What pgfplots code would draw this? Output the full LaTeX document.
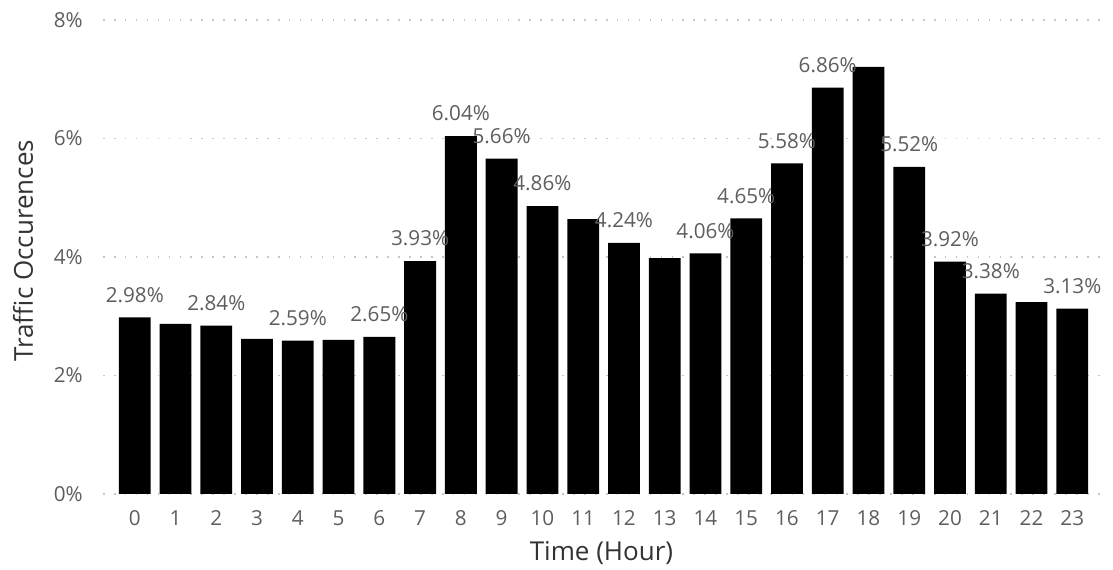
\documentclass[border=0pt]{standalone}
\usepackage{fontspec}
\setmainfont{Open Sans}
\usepackage{pgfplots}
\pgfplotsset{compat=1.18}

\definecolor{ticktext}{HTML}{605E5C}
\definecolor{titletext}{HTML}{333333}
\definecolor{gridc}{HTML}{C8C6C4}

% share of traffic occurrences per hour of the day (percent)
\pgfplotstableread{
hour share
0  2.98
1  2.87
2  2.84
3  2.62
4  2.59
5  2.60
6  2.65
7  3.93
8  6.04
9  5.66
10 4.86
11 4.64
12 4.24
13 3.98
14 4.06
15 4.65
16 5.58
17 6.86
18 7.21
19 5.52
20 3.92
21 3.38
22 3.24
23 3.13
}\hourly

% hours that carry a value label
\pgfplotstableread{
hour share
0  2.98
2  2.84
4  2.59
6  2.65
7  3.93
8  6.04
9  5.66
10 4.86
12 4.24
14 4.06
15 4.65
16 5.58
17 6.86
19 5.52
20 3.92
21 3.38
23 3.13
}\labelled

\begin{document}
\begin{tikzpicture}
\begin{axis}[
  scale only axis,
  width=747.75pt, height=355.5pt,
  xmin=-0.78, xmax=23.68,
  ymin=0, ymax=8,
  axis line style={draw=none},
  xtick={0,...,23},
  ytick={0,2,4,6,8},
  major tick length=0pt,
  ymajorgrids,
  grid style={gridc, line width=1.2pt, dash pattern=on 1.2pt off 7pt},
  yticklabel={\pgfmathprintnumber[fixed,precision=0]{\tick}\%},
  /pgf/number format/assume math mode=true,
  ticklabel style={font=\fontsize{15.5}{18}\selectfont, text=ticktext},
  yticklabel style={anchor=east, inner sep=0pt, xshift=-15pt},
  xticklabel style={anchor=north, inner sep=0pt, yshift=-12pt},
  xlabel={Time (Hour)},
  ylabel={Traffic Occurences},
  label style={font=\fontsize{19.5}{22}\selectfont, text=titletext},
  xlabel style={at={(axis description cs:0.5,0)}, anchor=base, yshift=-50pt, inner sep=0pt},
  ylabel style={at={(axis description cs:-0.0802,0.513)}, anchor=center, inner sep=0pt},
  clip=false,
]
\addplot[ybar, bar width=0.78, bar shift=0pt, fill=black, draw=none] table[x=hour, y=share] {\hourly};
\addplot[draw=none, mark=none,
  nodes near coords={\pgfmathprintnumber[fixed,fixed zerofill,precision=2]{\pgfplotspointmeta}\%},
  point meta=y,
  every node near coord/.style={anchor=base, inner sep=0pt, yshift=11.5pt,
    font=\fontsize{15.5}{18}\selectfont, text=ticktext},
] table[x=hour, y=share] {\labelled};
\end{axis}
\pgfresetboundingbox
\path[use as bounding box] (current axis.south west) ++(-77.25pt,-57pt) rectangle ++(834.75pt,427.5pt);
\end{tikzpicture}
\end{document}
